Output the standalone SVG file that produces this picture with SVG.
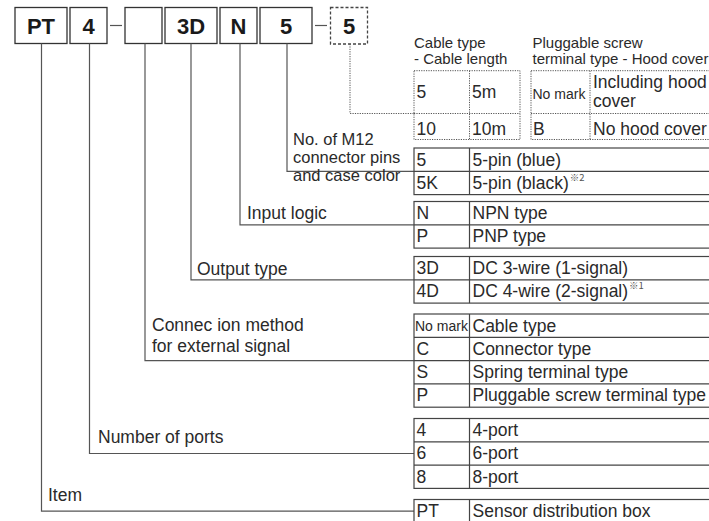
<svg xmlns="http://www.w3.org/2000/svg" width="709" height="521" viewBox="0 0 709 521">
<style>
text{font-family:"Liberation Sans",Arial,sans-serif;fill:#2a2a2a}
.t{font-size:17.5px}
.m{font-size:16.5px}
.h{font-size:15px}
.nm{font-size:14px}
.b{font-size:22px;font-weight:bold;text-anchor:middle;fill:#1a1a1a}
.sup{font-size:9.5px;fill:#555;font-family:"Noto Sans CJK JP","DejaVu Sans",sans-serif}
.box{fill:#fff;stroke:#333;stroke-width:1.3}
.dbox{fill:#fff;stroke:#444;stroke-width:1.3;stroke-dasharray:3 2}
.tbl{fill:none;stroke:#444;stroke-width:1.2}
.dtbl{fill:none;stroke:#555;stroke-width:1;stroke-dasharray:1.2 1.2}
.conn{fill:none;stroke:#555;stroke-width:1.2}
.dconn{fill:none;stroke:#555;stroke-width:1;stroke-dasharray:1.2 1.2}
</style>

<g id="code">
  <g id="box-pt"><rect class="box" x="15" y="7.5" width="52" height="36"/><text class="b" x="41" y="33.5">PT</text></g>
  <g id="box-4"><rect class="box" x="70" y="7.5" width="37" height="36"/><text class="b" x="88.5" y="33.5">4</text></g>
  <line class="conn" x1="110" y1="25.5" x2="122" y2="25.5"/>
  <g id="box-conn"><rect class="box" x="125" y="7.5" width="37" height="36"/></g>
  <g id="box-3d"><rect class="box" x="165" y="7.5" width="52" height="36"/><text class="b" x="191" y="33.5">3D</text></g>
  <g id="box-n"><rect class="box" x="220" y="7.5" width="37" height="36"/><text class="b" x="238.5" y="33.5">N</text></g>
  <g id="box-5"><rect class="box" x="260" y="7.5" width="52" height="36"/><text class="b" x="286" y="33.5">5</text></g>
  <line class="conn" x1="315" y1="25.5" x2="327" y2="25.5"/>
  <g id="box-cable"><rect class="dbox" x="330.5" y="7.5" width="37" height="36.5"/><text class="b" x="349" y="33.5">5</text></g>
</g>

<g id="connectors">
  <path class="conn" d="M41.5 43.5V511.2H414"/>
  <path class="conn" d="M89.5 43.5V453.5H414"/>
  <path class="conn" d="M145 43.5V360.6H414"/>
  <path class="conn" d="M191 43.5V279.8H414"/>
  <path class="conn" d="M240 43.5V224.8H414"/>
  <path class="conn" d="M287 43.5V171.3H414"/>
  <path class="dconn" d="M350 44V113.5H414"/>
</g>

<g id="labels">
  <text class="h" x="414" y="48">Cable type<tspan x="414" y="63.5">- Cable length</tspan></text>
  <text class="h" x="532.5" y="48">Pluggable screw<tspan x="532.5" y="63.5">terminal type - Hood cover</tspan></text>
  <text class="m" x="293" y="145">No. of M12<tspan x="293" y="163">connector pins</tspan><tspan x="293" y="181">and case color</tspan></text>
  <text class="t" x="247" y="219">Input logic</text>
  <text class="t" x="197" y="274.5">Output type</text>
  <text class="t" x="152" y="331">Connec ion method<tspan x="152" y="352">for external signal</tspan></text>
  <text class="t" x="98" y="443">Number of ports</text>
  <text class="t" x="48" y="501">Item</text>
</g>

<g id="table-cable">
  <rect class="dtbl" x="414" y="70.7" width="106" height="68.8"/>
  <line class="dtbl" x1="414" y1="113.5" x2="520" y2="113.5"/>
  <line class="dtbl" x1="469.5" y1="70.7" x2="469.5" y2="139.5"/>
  <text class="t" x="416.5" y="98">5</text><text class="t" x="472" y="98">5m</text>
  <text class="t" x="416.5" y="135">10</text><text class="t" x="472" y="135">10m</text>
</g>

<g id="table-hood">
  <rect class="dtbl" x="531" y="70.7" width="190" height="68.8"/>
  <line class="dtbl" x1="531" y1="113.5" x2="709" y2="113.5"/>
  <line class="dtbl" x1="590" y1="70.7" x2="590" y2="139.5"/>
  <text class="nm" x="532.5" y="99">No mark</text>
  <text class="t" x="593" y="88">Including hood<tspan x="593" y="106.5">cover</tspan></text>
  <text class="t" x="533" y="135">B</text><text class="t" x="593" y="135">No hood cover</text>
</g>

<g id="table-pins">
  <rect class="tbl" x="414" y="148" width="300" height="46.6"/>
  <line class="tbl" x1="414" y1="171.3" x2="709" y2="171.3"/>
  <line class="tbl" x1="469.5" y1="148" x2="469.5" y2="194.6"/>
  <text class="t" x="416.5" y="165.5">5</text><text class="t" x="472.5" y="165.5">5-pin (blue)</text>
  <text class="t" x="416.5" y="188.8">5K</text><text class="t" x="472.5" y="188.8">5-pin (black)<tspan class="sup" dx="1" dy="-8">※2</tspan></text>
</g>

<g id="table-logic">
  <rect class="tbl" x="414" y="201.5" width="300" height="46.6"/>
  <line class="tbl" x1="414" y1="224.8" x2="709" y2="224.8"/>
  <line class="tbl" x1="469.5" y1="201.5" x2="469.5" y2="248.1"/>
  <text class="t" x="416.5" y="219">N</text><text class="t" x="472.5" y="219">NPN type</text>
  <text class="t" x="416.5" y="242.3">P</text><text class="t" x="472.5" y="242.3">PNP type</text>
</g>

<g id="table-output">
  <rect class="tbl" x="414" y="256.5" width="300" height="46.6"/>
  <line class="tbl" x1="414" y1="279.8" x2="709" y2="279.8"/>
  <line class="tbl" x1="469.5" y1="256.5" x2="469.5" y2="303.1"/>
  <text class="t" x="416.5" y="274">3D</text><text class="t" x="472.5" y="274">DC 3-wire (1-signal)</text>
  <text class="t" x="416.5" y="297.3">4D</text><text class="t" x="472.5" y="297.3">DC 4-wire (2-signal)<tspan class="sup" dx="1" dy="-8">※1</tspan></text>
</g>

<g id="table-connection">
  <rect class="tbl" x="414" y="314" width="300" height="93.2"/>
  <line class="tbl" x1="414" y1="337.3" x2="709" y2="337.3"/>
  <line class="tbl" x1="414" y1="360.6" x2="709" y2="360.6"/>
  <line class="tbl" x1="414" y1="383.9" x2="709" y2="383.9"/>
  <line class="tbl" x1="469.5" y1="314" x2="469.5" y2="407.2"/>
  <text class="nm" x="415" y="330.5">No mark</text><text class="t" x="472.5" y="331.5">Cable type</text>
  <text class="t" x="416.5" y="354.8">C</text><text class="t" x="472.5" y="354.8">Connector type</text>
  <text class="t" x="416.5" y="378.1">S</text><text class="t" x="472.5" y="378.1">Spring terminal type</text>
  <text class="t" x="416.5" y="401.4">P</text><text class="t" x="472.5" y="401.4">Pluggable screw terminal type</text>
</g>

<g id="table-ports">
  <rect class="tbl" x="414" y="418.5" width="300" height="69.9"/>
  <line class="tbl" x1="414" y1="441.8" x2="709" y2="441.8"/>
  <line class="tbl" x1="414" y1="465.1" x2="709" y2="465.1"/>
  <line class="tbl" x1="469.5" y1="418.5" x2="469.5" y2="488.4"/>
  <text class="t" x="416.5" y="436">4</text><text class="t" x="472.5" y="436">4-port</text>
  <text class="t" x="416.5" y="459.3">6</text><text class="t" x="472.5" y="459.3">6-port</text>
  <text class="t" x="416.5" y="482.6">8</text><text class="t" x="472.5" y="482.6">8-port</text>
</g>

<g id="table-item">
  <rect class="tbl" x="414" y="499.5" width="300" height="30"/>
  <line class="tbl" x1="469.5" y1="499.5" x2="469.5" y2="521"/>
  <text class="t" x="416.5" y="517">PT</text><text class="t" x="472.5" y="517">Sensor distribution box</text>
</g>
</svg>
